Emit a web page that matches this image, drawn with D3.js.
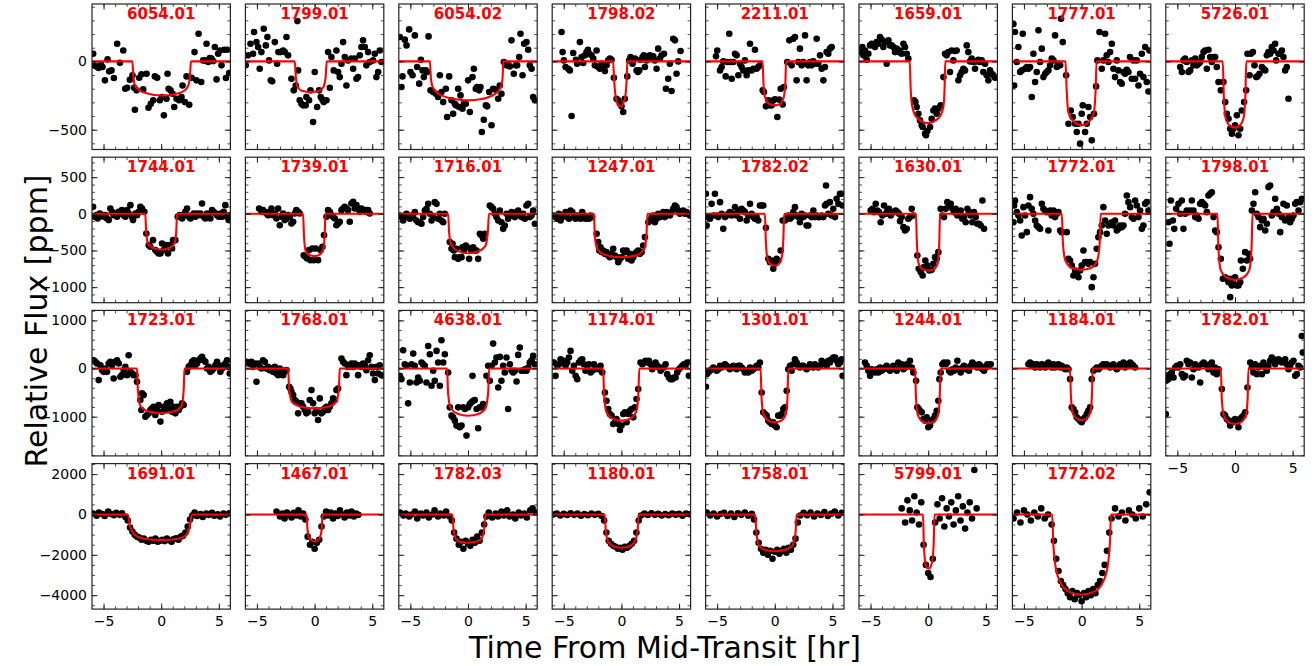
<!DOCTYPE html>
<html><head><meta charset="utf-8">
<script src="https://cdn.jsdelivr.net/npm/d3@7"></script>
<style>body{margin:0;background:#fff}svg{display:block}</style>
</head><body>
<svg id="chart" width="1314" height="666"></svg>
<script>
// ---------- labels / axes ----------
const toiLabels = [
 "6054.01","1799.01","6054.02","1798.02","2211.01","1659.01","1777.01","5726.01",
 "1744.01","1739.01","1716.01","1247.01","1782.02","1630.01","1772.01","1798.01",
 "1723.01","1768.01","4638.01","1174.01","1301.01","1244.01","1184.01","1782.01",
 "1691.01","1467.01","1782.03","1180.01","1758.01","5799.01","1772.02"];
const xDomain = [-6, 6];
const xMajorTicks = [-5, 0, 5];
const xMinorTicks = [-5,-4,-3,-2,-1,0,1,2,3,4,5];
const rowYDomains = [[-645,420],[-1212,772],[-1815,1207],[-4690,2520]];
const rowYMajorTicks = [[-500,0],[-1000,-500,0,500],[-1000,0,1000],[-4000,-2000,0,2000]];
const rowYMinorStep = [100,100,200,500];
const xAxisTitle = "Time From Mid-Transit [hr]";
const yAxisTitle = "Relative Flux [ppm]";

// ---------- row 1 ----------
const pts6054_01 = [[-5.9,56],[-5.81,-29],[-5.61,-37],[-5.43,-49],[-5.23,-24],[-5.09,-41],[-4.88,-139],[-4.65,15],[-4.51,-73],[-4.31,-66],[-4.1,-122],[-3.82,129],[-3.58,-10],[-3.29,80],[-3.12,-200],[-2.95,-193],[-2.72,-134],[-2.49,-102],[-2.34,-193],[-2.14,-212],[-2.28,-354],[-1.91,-120],[-1.71,-95],[-1.56,-205],[-1.27,-90],[-1.1,-339],[-0.9,-310],[-0.69,-285],[-0.55,-110],[-0.35,-120],[-0.12,-285],[0.06,-261],[0.23,-395],[0.46,-273],[0.55,-90],[0.64,-200],[0.81,-212],[0.98,-237],[1.13,-334],[1.33,-273],[1.56,-285],[1.76,-261],[1.85,-176],[2.05,-298],[2.2,-110],[2.43,-317],[2.63,-120],[2.89,68],[3.06,-139],[3.24,202],[3.47,-151],[3.64,7],[3.79,7],[3.93,129],[4.08,-5],[4.22,24],[4.36,20],[4.51,2],[4.65,105],[4.8,-132],[4.94,56],[5.09,80],[5.23,-29],[5.46,85],[5.61,-122],[5.72,85],[5.9,-85]];
const mod6054_01 = [[-6,0],[-2.5,0],[-2.42,-100],[-2.3,-170],[-2.0,-205],[-1.2,-235],[0,-250],[1.2,-240],[2.0,-215],[2.35,-175],[2.5,-100],[2.58,0],[6,0]];

const pts1799_01 = [[-5.97,-29],[-5.77,44],[-5.56,129],[-5.33,56],[-5.25,215],[-5.04,141],[-4.9,105],[-4.76,-54],[-4.61,68],[-4.41,239],[-4.23,117],[-4.09,178],[-3.95,7],[-3.8,-139],[-3.68,-146],[-3.45,141],[-3.25,-17],[-3.14,68],[-2.96,68],[-2.73,80],[-2.59,68],[-2.44,178],[-2.3,44],[-2.01,-127],[-1.81,-212],[-1.63,-176],[-1.49,295],[-1.43,-66],[-1.29,-285],[-1.14,-310],[-1.0,-322],[-0.77,-322],[-0.71,-261],[-0.48,-285],[-0.36,-212],[-0.13,-444],[0.01,-78],[0.22,-334],[0.39,-212],[0.53,-261],[0.68,-280],[0.79,-298],[1.03,-285],[1.17,68],[1.32,-193],[1.46,32],[1.66,-66],[1.89,80],[2.04,-78],[2.18,-115],[2.33,-17],[2.47,141],[2.62,32],[2.76,-176],[2.9,7],[3.19,20],[3.34,-54],[3.48,20],[3.63,-127],[3.77,-115],[3.92,44],[4.06,105],[4.2,154],[4.35,105],[4.49,-29],[4.64,68],[4.78,-5],[5.07,7],[5.22,56],[5.36,-115],[5.51,-78],[5.65,80],[5.8,-5]];
const mod1799_01 = [[-6,0],[-1.72,0],[-1.62,-120],[-1.45,-190],[-1.1,-215],[-0.35,-225],[0.4,-215],[0.75,-190],[0.95,-120],[1.06,0],[6,0]];

const pts6054_02 = [[-5.91,178],[-5.77,-188],[-5.68,-110],[-5.48,159],[-5.33,117],[-5.1,234],[-4.99,-78],[-4.81,-102],[-4.61,190],[-4.41,-41],[-4.23,-163],[-4.09,12],[-3.94,-66],[-3.83,-115],[-3.66,-66],[-3.54,-78],[-3.42,183],[-3.25,-212],[-3.02,-224],[-2.79,-237],[-2.59,-261],[-2.44,-102],[-2.3,-224],[-2.15,-298],[-1.92,-200],[-1.81,-407],[-1.63,-110],[-1.43,-285],[-1.29,-383],[-1.14,-310],[-1.05,-322],[-0.85,-200],[-0.77,-334],[-0.65,-249],[-0.48,-346],[-0.36,-310],[-0.19,-310],[0.01,-139],[0.16,-371],[0.39,-115],[0.51,-54],[0.68,-200],[0.79,-188],[0.97,-212],[1.08,-188],[1.2,-517],[1.37,-427],[1.55,-322],[1.66,-329],[1.84,-224],[2.04,-468],[2.18,-200],[2.41,-207],[2.62,-273],[2.76,-176],[2.9,-237],[3.11,-5],[3.34,-29],[3.48,-17],[3.63,-37],[3.77,154],[3.97,-90],[4.15,-29],[4.26,-29],[4.44,32],[4.55,202],[4.73,-102],[4.87,129],[5.07,141],[5.22,85],[5.36,-29],[5.51,-54],[5.65,-261],[5.8,-285]];
const mod6054_02 = [[-6,0],[-3.3,0],[-3.22,-120],[-3.05,-190],[-2.5,-240],[-1.2,-275],[0,-285],[1.2,-275],[2.3,-240],[2.85,-190],[3.0,-120],[3.06,0],[6,0]];

const pts1798_02 = [[-5.19,215],[-5.1,68],[-4.99,7],[-4.84,-41],[-4.61,-54],[-4.47,-66],[-4.32,-400],[-4.18,61],[-3.94,12],[-3.83,-17],[-3.6,141],[-3.45,32],[-3.31,-12],[-3.16,44],[-3.02,68],[-2.9,85],[-2.79,56],[-2.59,44],[-2.44,20],[-2.3,-29],[-2.15,80],[-2.01,-41],[-1.86,-54],[-1.72,-17],[-1.58,-41],[-1.43,-71],[-1.29,-29],[-1.14,7],[-1.0,20],[-0.85,12],[-0.65,-120],[-0.42,-273],[-0.27,-285],[-0.13,-310],[0.01,-329],[0.16,-371],[0.3,-273],[0.51,-110],[0.68,7],[0.79,32],[0.97,-17],[1.17,20],[1.32,-66],[1.43,-78],[1.55,-66],[1.66,12],[1.84,32],[1.95,44],[2.04,-41],[2.18,7],[2.33,20],[2.47,44],[2.62,32],[2.76,37],[2.9,7],[3.05,-54],[3.19,93],[3.34,20],[3.48,44],[3.69,56],[3.86,-200],[4.06,-127],[4.2,-17],[4.35,-217],[4.49,166],[4.64,154],[4.78,-90],[4.93,0],[5.13,76]];
const mod1798_02 = [[-6,0],[-0.72,0],[-0.62,-150],[-0.45,-280],[-0.2,-325],[-0.05,-330],[0.15,-310],[0.35,-250],[0.45,-140],[0.52,0],[6,0]];

const pts2211_01 = [[-5.1,37],[-4.99,80],[-4.75,-66],[-4.61,-41],[-4.47,0],[-4.26,-110],[-4.12,-5],[-3.95,202],[-3.83,-5],[-3.74,-127],[-3.6,-5],[-3.45,56],[-3.31,44],[-3.16,-102],[-3.02,-17],[-2.88,-41],[-2.73,-66],[-2.59,7],[-2.44,-102],[-2.3,-66],[-2.15,129],[-2.01,-66],[-1.86,-54],[-1.72,85],[-1.58,-54],[-1.43,-41],[-1.29,-29],[-1.05,-212],[-0.94,-224],[-0.77,-329],[-0.56,-285],[-0.42,-322],[-0.27,-322],[-0.13,-285],[0.01,-278],[0.22,-407],[0.39,-280],[0.51,-200],[0.68,-315],[0.79,-188],[1.08,-5],[1.26,154],[1.46,-29],[1.6,166],[1.75,178],[1.89,-139],[2.04,-5],[2.18,93],[2.33,-29],[2.47,-5],[2.62,190],[2.76,-139],[2.9,-29],[3.05,-5],[3.19,-29],[3.34,0],[3.48,-17],[3.63,166],[3.77,-17],[3.92,44],[4.06,-54],[4.21,-139],[4.35,-41],[4.49,68],[4.64,56],[4.78,93],[4.93,105]];
const mod2211_01 = [[-6,0],[-1.06,0],[-0.98,-160],[-0.85,-260],[-0.5,-310],[0,-322],[0.45,-312],[0.78,-260],[0.92,-150],[0.98,0],[6,0]];

const pts1659_01 = [[-5.85,68],[-5.71,105],[-5.62,44],[-5.48,80],[-5.33,12],[-5.19,56],[-5.04,117],[-4.9,129],[-4.75,117],[-4.61,105],[-4.47,141],[-4.32,129],[-4.18,178],[-4.03,159],[-3.89,105],[-3.74,141],[-3.6,-17],[-3.45,154],[-3.31,117],[-3.17,117],[-3.02,105],[-2.88,68],[-2.73,93],[-2.59,68],[-2.44,80],[-2.3,56],[-2.15,129],[-2.01,105],[-1.86,56],[-1.72,20],[-1.23,-285],[-1.11,-298],[-1.0,-334],[-0.85,-383],[-0.71,-432],[-0.56,-468],[-0.48,-480],[-0.27,-529],[-0.19,-541],[-0.07,-510],[0.16,-480],[0.3,-420],[0.45,-359],[0.59,-346],[0.74,-383],[0.88,-346],[1.08,-322],[1.32,-115],[1.46,56],[1.6,44],[1.75,68],[1.89,-78],[2.04,80],[2.18,7],[2.33,76],[2.47,80],[2.62,-139],[2.76,-102],[2.9,-78],[3.05,-54],[3.19,-66],[3.34,117],[3.48,68],[3.63,0],[3.77,20],[3.92,-5],[4.06,-54],[4.21,0],[4.35,12],[4.49,-5],[4.64,7],[4.78,-78],[4.93,-17],[5.07,-102],[5.22,-139],[5.36,-66],[5.51,-90],[5.65,-102],[5.8,-120]];
const mod1659_01 = [[-6,0],[-1.6,0],[-1.52,-200],[-1.38,-330],[-1.0,-410],[0,-452],[0.9,-415],[1.3,-340],[1.42,-200],[1.48,0],[6,0]];

const pts1777_01 = [[-5.91,273],[-5.85,-176],[-5.77,215],[-5.62,-5],[-5.48,105],[-5.33,-78],[-5.19,-66],[-5.1,202],[-4.9,-54],[-4.75,-41],[-4.61,-54],[-4.47,-41],[-4.32,-261],[-4.18,56],[-4.03,-151],[-3.89,-78],[-3.74,227],[-3.6,-5],[-3.45,93],[-3.31,-115],[-3.16,-90],[-3.02,-78],[-2.88,-66],[-2.73,-29],[-2.59,20],[-2.44,7],[-2.3,190],[-2.15,-41],[-2.01,-17],[-1.86,-29],[-1.78,312],[-1.63,141],[-1.34,-102],[-1.14,-456],[-0.94,-359],[-0.77,-407],[-0.56,-456],[-0.42,-517],[-0.27,-456],[-0.13,-602],[0.01,-383],[0.1,-322],[0.3,-517],[0.45,-456],[0.59,-334],[0.74,-407],[0.88,-578],[1.08,-383],[1.26,-183],[1.37,7],[1.55,215],[1.75,-54],[1.89,7],[2.04,202],[2.18,44],[2.33,-5],[2.47,68],[2.62,129],[2.76,-54],[2.9,-115],[3.05,7],[3.19,-66],[3.34,-151],[3.48,-163],[3.63,-78],[3.77,-90],[3.92,-61],[4.06,-78],[4.2,32],[4.35,-127],[4.49,7],[4.64,-127],[4.78,7],[4.93,-176],[5.07,-90],[5.22,56],[5.36,-115],[5.51,105],[5.65,-151],[5.8,-220],[5.88,80]];
const mod1777_01 = [[-6,0],[-1.4,0],[-1.3,-200],[-1.15,-370],[-0.7,-440],[0,-468],[0.6,-445],[1.05,-380],[1.22,-200],[1.3,0],[6,0]];

const pts5726_01 = [[-4.75,-41],[-4.61,-78],[-4.47,7],[-4.32,20],[-4.18,-5],[-4.03,-78],[-3.89,-66],[-3.74,7],[-3.6,-29],[-3.45,20],[-3.31,-29],[-3.16,-17],[-3.02,-5],[-2.88,32],[-2.73,68],[-2.59,80],[-2.44,-54],[-2.3,85],[-2.15,32],[-2.01,-5],[-1.86,32],[-1.72,32],[-1.58,-41],[-1.43,-151],[-1.23,-212],[-1.0,-151],[-0.85,-298],[-0.71,-383],[-0.56,-420],[-0.42,-493],[-0.27,-529],[-0.13,-493],[0.01,-468],[0.16,-395],[0.3,-541],[0.45,-493],[0.59,-359],[0.79,-298],[0.97,-212],[1.08,56],[1.26,-102],[1.37,56],[1.55,68],[1.69,-29],[1.84,-115],[1.95,-110],[2.12,-90],[2.33,-41],[2.47,-54],[2.62,-66],[2.76,44],[2.9,68],[3.05,56],[3.19,105],[3.34,80],[3.48,129],[3.57,7],[3.77,56],[3.92,56],[4.06,80],[4.2,32],[4.35,-66],[4.49,-41],[4.64,-273]];
const mod5726_01 = [[-6,0],[-1.06,0],[-0.97,-250],[-0.82,-410],[-0.45,-470],[0,-485],[0.4,-470],[0.75,-410],[0.9,-250],[0.98,0],[6,0]];

// ---------- row 2 ----------
const pts1744_01 = [[-5.91,95],[-5.79,-41],[-5.62,-18],[-5.51,-64],[-5.33,5],[-5.13,-18],[-4.99,-41],[-4.84,-18],[-4.7,-64],[-4.55,-86],[-4.41,73],[-4.26,27],[-4.12,-18],[-3.97,5],[-3.83,-41],[-3.68,27],[-3.54,5],[-3.4,50],[-3.25,-18],[-3.11,-41],[-2.96,50],[-2.82,5],[-2.67,118],[-2.53,-41],[-2.44,-86],[-2.24,5],[-2.1,-18],[-1.95,27],[-1.81,95],[-1.66,73],[-1.46,27],[-1.29,-268],[-1.08,-427],[-0.94,-450],[-0.71,-359],[-0.51,-495],[-0.36,-518],[-0.22,-541],[-0.07,-541],[0.07,-405],[0.22,-495],[0.36,-473],[0.45,-427],[0.59,-541],[0.79,-427],[0.94,-473],[1.03,-359],[1.23,-359],[1.43,-41],[1.6,-18],[1.81,-64],[1.95,-18],[2.1,27],[2.24,73],[2.38,-41],[2.53,-64],[2.67,-18],[2.82,5],[2.96,-41],[3.11,5],[3.25,-18],[3.4,5],[3.54,141],[3.68,-41],[3.83,-64],[3.97,5],[4.12,-18],[4.26,-64],[4.41,50],[4.55,27],[4.7,5],[4.84,-18],[4.99,-41],[5.13,5],[5.27,-41],[5.42,27],[5.56,118],[5.71,-41],[5.85,-86],[5.94,-18]];
const mod1744_01 = [[-6,0],[-1.38,0],[-1.3,-250],[-1.15,-400],[-0.7,-465],[0,-487],[0.7,-465],[1.15,-400],[1.3,-250],[1.38,0],[6,0]];

const pts1739_01 = [[-4.81,73],[-4.61,27],[-4.47,50],[-4.32,27],[-4.18,5],[-4.03,-18],[-3.89,27],[-3.74,73],[-3.6,-18],[-3.45,5],[-3.31,-64],[-3.16,73],[-3.02,-155],[-2.88,-41],[-2.73,5],[-2.59,-86],[-2.44,-64],[-2.3,-18],[-2.15,-41],[-2.01,-132],[-1.86,-109],[-1.72,5],[-1.58,50],[-1.43,27],[-1.29,5],[-0.94,-564],[-0.79,-586],[-0.65,-609],[-0.48,-495],[-0.36,-632],[-0.19,-473],[-0.07,-632],[0.1,-473],[0.3,-632],[0.51,-495],[0.68,-450],[0.82,-291],[1.03,-41],[1.17,50],[1.32,27],[1.46,-18],[1.6,-41],[1.75,-64],[1.89,-155],[2.04,-132],[2.18,-109],[2.33,50],[2.47,73],[2.62,95],[2.76,73],[2.9,50],[3.05,-109],[3.19,141],[3.34,164],[3.48,73],[3.63,118],[3.77,73],[3.92,27],[4.06,73],[4.2,50],[4.35,50],[4.49,27],[4.64,50],[4.78,5]];
const mod1739_01 = [[-6,0],[-1.0,0],[-0.92,-300],[-0.78,-500],[-0.45,-560],[0,-577],[0.4,-560],[0.72,-500],[0.87,-300],[0.94,0],[6,0]];

const pts1716_01 = [[-5.91,-23],[-5.77,-45],[-5.62,-91],[-5.48,-23],[-5.33,0],[-5.19,-45],[-5.04,-68],[-4.9,-23],[-4.75,-45],[-4.61,23],[-4.47,-91],[-4.32,-114],[-4.18,-114],[-4.03,-136],[-3.89,-45],[-3.74,45],[-3.6,68],[-3.45,136],[-3.31,0],[-3.16,-91],[-3.02,-45],[-2.88,159],[-2.73,136],[-2.59,-68],[-2.44,0],[-2.3,-91],[-2.15,-114],[-2.01,0],[-1.58,-386],[-1.43,-477],[-1.34,-409],[-1.23,-500],[-1.14,-591],[-1.0,-477],[-0.85,-614],[-0.71,-591],[-0.56,-591],[-0.48,-455],[-0.36,-500],[-0.19,-432],[-0.07,-455],[0.1,-614],[0.22,-477],[0.3,-500],[0.45,-455],[0.59,-500],[0.74,-500],[0.88,-614],[1.03,-273],[1.17,-295],[1.32,-341],[1.46,-273],[1.89,114],[2.04,91],[2.18,68],[2.33,0],[2.47,-45],[2.62,-91],[2.76,45],[2.9,-114],[3.05,-205],[3.19,-159],[3.34,0],[3.48,-68],[3.63,-23],[3.77,23],[3.92,-23],[4.06,-45],[4.21,23],[4.35,45],[4.49,-23],[4.64,-45],[4.78,0],[4.93,-68],[5.07,114],[5.22,136],[5.36,-45],[5.51,-23],[5.65,45],[5.8,-136]];
const mod1716_01 = [[-6,0],[-1.72,0],[-1.64,-250],[-1.45,-420],[-0.9,-505],[0,-537],[0.9,-510],[1.5,-440],[1.72,-250],[1.82,0],[6,0]];

const pts1247_01 = [[-5.85,-23],[-5.71,-45],[-5.56,-68],[-5.42,0],[-5.27,-91],[-5.13,-45],[-4.99,-23],[-4.84,23],[-4.7,-45],[-4.55,-68],[-4.41,45],[-4.26,23],[-4.12,-45],[-3.97,-68],[-3.83,-23],[-3.68,-45],[-3.54,-68],[-3.4,23],[-3.25,-23],[-3.11,-68],[-2.96,-45],[-2.82,-68],[-2.67,-23],[-2.53,-45],[-2.15,-273],[-2.01,-386],[-1.92,-500],[-1.81,-455],[-1.69,-523],[-1.58,-500],[-1.43,-545],[-1.29,-523],[-1.14,-568],[-1.0,-591],[-0.85,-545],[-0.71,-477],[-0.56,-568],[-0.42,-591],[-0.27,-659],[-0.13,-614],[0.01,-591],[0.16,-500],[0.3,-523],[0.45,-500],[0.59,-614],[0.74,-545],[0.88,-636],[1.03,-591],[1.17,-545],[1.31,-523],[1.46,-500],[1.6,-545],[1.75,-523],[1.89,-432],[2.04,-318],[2.33,-114],[2.47,-91],[2.62,-45],[2.76,-23],[2.9,-114],[3.05,-68],[3.19,0],[3.34,-45],[3.48,-23],[3.63,23],[3.77,-45],[3.92,23],[4.06,0],[4.21,-23],[4.35,23],[4.49,68],[4.64,114],[4.78,91],[4.93,45],[5.07,0],[5.22,23],[5.36,45],[5.51,0],[5.65,23],[5.8,0],[5.94,-23]];
const mod1247_01 = [[-6,0],[-2.38,0],[-2.3,-300],[-2.1,-480],[-1.3,-565],[0,-592],[1.2,-570],[1.95,-490],[2.17,-300],[2.26,0],[6,0]];

const pts1782_02 = [[-5.97,273],[-5.91,-159],[-5.77,-45],[-5.62,-68],[-5.48,136],[-5.33,-23],[-5.19,273],[-5.04,-23],[-4.9,-45],[-4.75,159],[-4.61,0],[-4.47,-205],[-4.32,-45],[-4.18,-23],[-4.03,0],[-3.89,23],[-3.74,-23],[-3.6,0],[-3.45,91],[-3.31,-23],[-3.16,45],[-3.02,-68],[-2.88,68],[-2.73,45],[-2.59,23],[-2.44,-91],[-2.3,-23],[-2.15,136],[-2.01,0],[-1.86,-45],[-1.72,-68],[-1.58,-45],[-1.43,-91],[-1.29,114],[-1.14,114],[-1.0,114],[-0.77,-191],[-0.56,-614],[-0.42,-659],[-0.27,-636],[-0.13,-750],[0.01,-682],[0.16,-614],[0.3,-636],[0.51,-500],[0.68,-91],[0.88,-91],[1.03,-45],[1.17,-23],[1.32,-68],[1.46,-45],[1.6,23],[1.75,91],[1.89,-23],[2.04,-45],[2.18,-114],[2.33,0],[2.47,-45],[2.62,-23],[2.76,-159],[2.9,-159],[3.05,-23],[3.19,-45],[3.34,45],[3.48,-45],[3.63,-23],[3.77,-45],[3.92,-45],[4.06,-23],[4.21,-45],[4.35,114],[4.44,386],[4.49,136],[4.64,0],[4.78,159],[4.93,-23],[5.07,68],[5.22,-45],[5.36,205],[5.51,136],[5.65,273],[5.79,273],[5.88,114]];
const mod1782_02 = [[-6,0],[-0.86,0],[-0.78,-350],[-0.65,-600],[-0.35,-690],[0,-705],[0.3,-690],[0.6,-600],[0.74,-350],[0.82,0],[6,0]];

const pts1630_01 = [[-4.99,45],[-4.84,68],[-4.7,23],[-4.55,136],[-4.41,45],[-4.26,23],[-4.12,-114],[-3.97,-23],[-3.83,114],[-3.68,0],[-3.54,45],[-3.4,68],[-3.25,-23],[-3.11,23],[-2.96,23],[-2.82,45],[-2.67,23],[-2.53,0],[-2.44,-100],[-2.3,-45],[-2.15,-182],[-2.01,-227],[-1.86,-205],[-1.72,-68],[-1.58,-45],[-1.43,68],[-1.29,-23],[-0.94,-568],[-0.82,-750],[-0.65,-795],[-0.48,-841],[-0.36,-727],[-0.25,-636],[-0.07,-705],[0.1,-773],[0.3,-764],[0.45,-682],[0.59,-591],[0.74,-614],[0.88,-523],[1.08,68],[1.23,-23],[1.37,-45],[1.52,68],[1.66,159],[1.81,114],[1.95,136],[2.1,68],[2.24,23],[2.38,68],[2.53,-23],[2.67,23],[2.82,45],[2.96,-68],[3.11,-45],[3.25,-114],[3.4,68],[3.54,23],[3.68,-23],[3.83,-114],[3.97,23],[4.12,-45],[4.26,-136],[4.41,-136],[4.55,-159],[4.7,182],[4.84,-205]];
const mod1630_01 = [[-6,0],[-1.06,0],[-0.98,-400],[-0.82,-680],[-0.45,-760],[0,-773],[0.45,-760],[0.82,-680],[0.96,-400],[1.03,0],[6,0]];

const pts1772_01 = [[-5.91,-114],[-5.85,114],[-5.77,182],[-5.62,23],[-5.48,-23],[-5.33,-91],[-5.19,-295],[-5.04,91],[-4.9,-23],[-4.75,-250],[-4.61,114],[-4.47,227],[-4.32,68],[-4.18,0],[-4.03,-91],[-3.89,-159],[-3.74,-182],[-3.6,-205],[-3.45,136],[-3.31,68],[-3.16,45],[-3.02,23],[-2.88,-227],[-2.73,45],[-2.59,-23],[-2.44,45],[-2.3,-45],[-2.15,0],[-2.01,23],[-1.86,-227],[-1.72,-250],[-1.29,-250],[-1.14,-614],[-1.0,-636],[-0.85,-705],[-0.71,-841],[-0.56,-773],[-0.42,-818],[-0.27,-864],[-0.13,-773],[0.01,-705],[0.16,-500],[0.3,-659],[0.45,-659],[0.59,-682],[0.74,-659],[0.88,-1000],[1.03,-864],[1.17,-682],[1.31,-477],[1.46,-318],[1.6,-250],[1.75,-159],[1.89,91],[2.04,-91],[2.18,-273],[2.33,-159],[2.47,-136],[2.62,-114],[2.76,-159],[2.9,-91],[3.05,-227],[3.19,-205],[3.34,-159],[3.48,-182],[3.63,-159],[3.77,0],[3.92,250],[4.06,159],[4.21,91],[4.35,-45],[4.5,-68],[4.64,182],[4.79,114],[4.93,-45],[5.07,45],[5.22,-205],[5.36,-159],[5.51,136],[5.65,159],[5.8,45]];
const mod1772_01 = [[-6,0],[-1.72,0],[-1.62,-400],[-1.4,-640],[-0.8,-740],[0,-764],[0.8,-740],[1.35,-640],[1.57,-400],[1.66,0],[6,0]];

const pts1798_01 = [[-5.77,-114],[-5.68,-409],[-5.56,182],[-5.39,-91],[-5.27,-205],[-5.1,68],[-4.9,136],[-4.75,0],[-4.61,182],[-4.47,-205],[-4.32,0],[-4.18,45],[-4.03,23],[-3.89,45],[-3.74,182],[-3.6,45],[-3.45,-45],[-3.31,-23],[-3.16,-68],[-3.02,136],[-2.88,159],[-2.73,136],[-2.59,114],[-2.44,23],[-2.3,250],[-2.15,273],[-2.01,295],[-1.86,-45],[-1.72,-227],[-1.58,-250],[-1.43,-455],[-1.23,-614],[-1.05,-886],[-0.85,-864],[-0.71,-886],[-0.56,-932],[-0.42,-1136],[-0.42,-886],[-0.27,-977],[-0.13,-955],[0.01,-864],[0.16,-977],[0.3,-977],[0.45,-932],[0.51,-636],[0.68,-750],[0.88,-523],[1.03,-636],[1.17,-545],[1.31,-614],[1.46,45],[1.6,136],[1.75,295],[1.89,0],[2.04,-45],[2.18,-182],[2.33,-91],[2.47,-68],[2.62,-227],[2.76,-136],[2.9,364],[3.05,386],[3.19,-23],[3.34,23],[3.48,205],[3.63,68],[3.77,0],[3.92,-250],[4.06,-45],[4.2,136],[4.35,-91],[4.49,114],[4.64,-45],[4.78,-114],[4.93,-68],[5.07,-23],[5.22,136],[5.36,159],[5.51,45],[5.65,159],[5.8,205]];
const mod1798_01 = [[-6,0],[-1.52,0],[-1.44,-450],[-1.25,-760],[-0.7,-870],[0,-900],[0.7,-870],[1.25,-760],[1.44,-450],[1.52,0],[6,0]];

// ---------- row 3 ----------
const pts1723_01 = [[-5.85,172],[-5.71,138],[-5.56,103],[-5.42,-241],[-5.27,69],[-5.13,-34],[-4.99,-69],[-4.84,0],[-4.7,-69],[-4.55,103],[-4.41,138],[-4.26,69],[-4.12,-207],[-3.97,138],[-3.83,172],[-3.68,103],[-3.54,-172],[-3.4,-138],[-3.25,-34],[-3.11,34],[-2.96,-138],[-2.82,276],[-2.67,-69],[-2.53,-103],[-2.38,-138],[-2.24,-138],[-2.1,-276],[-1.81,-655],[-1.72,-862],[-1.66,-517],[-1.52,-552],[-1.37,-1000],[-1.23,-966],[-1.08,-931],[-0.94,-862],[-0.79,-828],[-0.65,-793],[-0.51,-966],[-0.36,-862],[-0.22,-759],[-0.07,-1103],[0.07,-897],[0.22,-793],[0.36,-862],[0.51,-724],[0.65,-828],[0.79,-690],[0.94,-897],[1.08,-793],[1.23,-931],[1.37,-793],[1.52,-862],[1.66,-793],[1.81,-724],[1.95,-759],[2.24,-69],[2.38,34],[2.53,69],[2.67,138],[2.82,172],[2.96,69],[3.11,103],[3.25,172],[3.4,207],[3.54,241],[3.68,172],[3.83,138],[3.97,0],[4.12,34],[4.26,-69],[4.41,-34],[4.55,0],[4.7,69],[4.84,138],[4.99,69],[5.13,-69],[5.27,0],[5.42,69],[5.56,103],[5.71,172],[5.85,34],[5.94,-103]];
const mod1723_01 = [[-6,0],[-2.1,0],[-2.02,-450],[-1.8,-780],[-1.0,-900],[0,-930],[1.0,-900],[1.75,-780],[1.95,-450],[2.02,0],[6,0]];

const pts1768_01 = [[-5.91,138],[-5.77,103],[-5.62,103],[-5.48,138],[-5.33,34],[-5.19,103],[-5.04,-276],[-4.9,103],[-4.75,34],[-4.61,0],[-4.47,172],[-4.32,138],[-4.18,0],[-4.03,34],[-3.89,-34],[-3.74,0],[-3.6,-69],[-3.45,34],[-3.31,-103],[-3.16,-138],[-3.02,0],[-2.88,-34],[-2.73,-138],[-2.59,-69],[-2.44,-34],[-2.21,-379],[-2.1,-414],[-2.01,-483],[-1.86,-552],[-1.72,-655],[-1.58,-690],[-1.43,-931],[-1.29,-724],[-1.14,-724],[-1.0,-793],[-0.85,-862],[-0.71,-931],[-0.56,-897],[-0.42,-655],[-0.27,-448],[-0.13,-724],[0.01,-931],[0.16,-862],[0.3,-1069],[0.45,-621],[0.59,-931],[0.74,-897],[0.88,-828],[1.03,-793],[1.17,-862],[1.32,-793],[1.46,-724],[1.6,-621],[1.75,-655],[1.89,-448],[2.04,-414],[2.33,207],[2.47,138],[2.62,103],[2.76,-138],[2.9,34],[3.05,69],[3.19,103],[3.34,34],[3.48,103],[3.63,69],[3.77,-138],[3.92,69],[4.06,34],[4.2,103],[4.35,69],[4.49,-34],[4.64,172],[4.78,276],[4.93,34],[5.07,-103],[5.22,-241],[5.36,34],[5.51,-103],[5.65,69],[5.8,-138]];
const mod1768_01 = [[-6,0],[-2.3,0],[-2.2,-450],[-1.95,-700],[-1.1,-800],[0,-828],[1.1,-800],[1.85,-700],[2.1,-450],[2.18,0],[6,0]];

const pts4638_01 = [[-5.91,-152],[-5.77,-221],[-5.62,379],[-5.48,90],[-5.33,55],[-5.19,-724],[-5.04,-290],[-4.9,90],[-4.75,310],[-4.61,55],[-4.47,-290],[-4.32,-186],[-4.18,-255],[-4.03,124],[-3.89,90],[-3.74,55],[-3.6,-290],[-3.45,469],[-3.31,297],[-3.16,-359],[-3.02,-48],[-2.88,-255],[-2.73,366],[-2.59,124],[-2.44,-359],[-2.3,586],[-2.15,124],[-2.01,297],[-1.72,-83],[-1.58,-807],[-1.43,-979],[-1.29,-1014],[-1.14,-1083],[-1.0,-1186],[-0.85,-807],[-0.71,-1221],[-0.56,-1186],[-0.42,-807],[-0.27,-841],[-0.13,-1393],[0.01,-807],[0.16,-738],[0.3,-703],[0.39,-152],[0.45,-669],[0.59,-655],[0.74,-841],[0.88,-1241],[1.03,-807],[1.17,-807],[1.31,-738],[1.6,-152],[1.75,55],[1.89,-255],[2.04,55],[2.18,517],[2.33,124],[2.47,228],[2.62,-393],[2.76,241],[2.9,-255],[3.05,55],[3.19,-83],[3.34,228],[3.48,-841],[3.63,90],[3.77,-48],[3.92,-83],[4.06,-48],[4.21,-269],[4.35,283],[4.49,434],[4.64,-48],[4.78,-48],[4.93,-14],[5.07,-48],[5.22,21],[5.36,124],[5.51,172],[5.65,262],[5.8,90]];
const mod4638_01 = [[-6,0],[-1.81,0],[-1.73,-500],[-1.5,-820],[-0.9,-940],[0,-980],[0.9,-945],[1.5,-830],[1.75,-500],[1.83,0],[6,0]];

const pts1174_01 = [[-5.85,124],[-5.71,-152],[-5.56,55],[-5.42,90],[-5.27,193],[-5.13,124],[-4.99,159],[-4.84,55],[-4.7,124],[-4.55,228],[-4.41,366],[-4.26,-48],[-4.12,55],[-3.97,-152],[-3.83,-221],[-3.68,124],[-3.54,172],[-3.4,193],[-3.25,90],[-3.11,-48],[-2.96,55],[-2.82,90],[-2.67,-83],[-2.53,-48],[-2.38,90],[-2.24,-14],[-2.1,21],[-1.95,-14],[-1.81,55],[-1.66,-83],[-1.43,-497],[-1.29,-669],[-1.14,-841],[-1.0,-945],[-0.85,-979],[-0.71,-1152],[-0.56,-1117],[-0.42,-1048],[-0.27,-1152],[-0.13,-1276],[0.01,-1186],[0.16,-945],[0.3,-910],[0.45,-1117],[0.59,-945],[0.74,-876],[0.88,-841],[1.03,-1014],[1.17,-807],[1.31,-634],[1.46,-428],[1.66,124],[1.81,90],[1.95,124],[2.1,159],[2.24,124],[2.38,159],[2.53,90],[2.67,-14],[2.82,55],[2.96,124],[3.11,55],[3.25,21],[3.4,-48],[3.54,21],[3.69,21],[3.83,90],[3.97,-117],[4.12,-186],[4.26,-221],[4.41,-221],[4.55,-186],[4.7,-186],[4.84,-83],[4.99,-14],[5.13,21],[5.28,55],[5.42,90],[5.56,55],[5.71,124],[5.85,-152]];
const mod1174_01 = [[-6,0],[-1.58,0],[-1.5,-550],[-1.3,-900],[-0.75,-1040],[0,-1083],[0.75,-1040],[1.28,-900],[1.47,-550],[1.55,0],[6,0]];

const pts1301_01 = [[-5.97,-379],[-5.91,-117],[-5.77,-83],[-5.62,-48],[-5.48,-14],[-5.33,21],[-5.19,-14],[-5.04,-48],[-4.9,-14],[-4.75,55],[-4.61,21],[-4.47,55],[-4.32,90],[-4.18,55],[-4.03,21],[-3.89,-14],[-3.74,21],[-3.6,55],[-3.45,21],[-3.31,-14],[-3.16,55],[-3.02,55],[-2.88,21],[-2.73,-14],[-2.59,-83],[-2.44,-48],[-2.3,-83],[-2.15,21],[-2.01,-48],[-1.86,-14],[-1.72,21],[-1.58,55],[-1.43,21],[-1.29,124],[-1.14,-497],[-1.0,-910],[-0.85,-945],[-0.71,-979],[-0.56,-1083],[-0.42,-1117],[-0.27,-1152],[-0.13,-1117],[0.01,-1186],[0.16,-1221],[0.3,-979],[0.45,-979],[0.59,-945],[0.74,-841],[0.88,-807],[1.03,-462],[1.17,-14],[1.32,55],[1.46,-48],[1.6,90],[1.75,193],[1.89,124],[2.04,55],[2.18,21],[2.33,55],[2.47,55],[2.62,21],[2.76,-14],[2.91,21],[3.05,90],[3.19,55],[3.34,21],[3.48,90],[3.63,55],[3.77,21],[3.92,55],[4.06,159],[4.21,124],[4.35,90],[4.5,55],[4.64,159],[4.78,124],[4.93,193],[5.07,228],[5.22,228],[5.36,159],[5.51,90],[5.65,124],[5.79,193],[5.88,-152]];
const mod1301_01 = [[-6,0],[-1.23,0],[-1.15,-600],[-0.98,-950],[-0.5,-1090],[0,-1117],[0.5,-1090],[0.95,-950],[1.1,-600],[1.17,0],[6,0]];

const pts1244_01 = [[-5.48,124],[-5.33,55],[-5.19,-48],[-5.04,-152],[-4.9,-14],[-4.75,-48],[-4.61,-83],[-4.47,-14],[-4.32,-83],[-4.18,21],[-4.03,-48],[-3.89,-14],[-3.74,21],[-3.6,55],[-3.45,-14],[-3.31,-48],[-3.16,21],[-3.02,55],[-2.88,-14],[-2.73,-48],[-2.59,124],[-2.44,55],[-2.3,90],[-2.15,-14],[-2.01,21],[-1.86,90],[-1.72,55],[-1.58,159],[-1.43,21],[-1.29,-83],[-1.05,-255],[-0.94,-807],[-0.82,-841],[-0.71,-876],[-0.56,-910],[-0.42,-1048],[-0.27,-1083],[-0.13,-1014],[0.01,-1221],[0.16,-1186],[0.3,-1083],[0.45,-1048],[0.59,-979],[0.74,-876],[0.88,-669],[0.97,-221],[1.08,-83],[1.23,90],[1.37,124],[1.52,90],[1.66,124],[1.81,-48],[1.95,-83],[2.1,-14],[2.24,-48],[2.38,21],[2.53,159],[2.67,-14],[2.82,-83],[2.96,21],[3.11,55],[3.25,-14],[3.4,21],[3.54,-48],[3.68,55],[3.83,124],[3.97,90],[4.12,55],[4.26,21],[4.41,90],[4.55,55],[4.7,-14],[4.84,-48],[4.99,21],[5.13,90],[5.27,55],[5.42,90]];
const mod1244_01 = [[-6,0],[-1.14,0],[-1.06,-600],[-0.9,-960],[-0.45,-1110],[0,-1138],[0.45,-1110],[0.86,-960],[1.0,-600],[1.08,0],[6,0]];

const pts1184_01 = [[-4.61,90],[-4.47,124],[-4.32,55],[-4.18,90],[-4.03,21],[-3.89,90],[-3.74,55],[-3.6,21],[-3.45,90],[-3.31,55],[-3.16,21],[-3.02,90],[-2.88,124],[-2.73,55],[-2.59,21],[-2.44,90],[-2.3,21],[-2.15,55],[-2.01,90],[-1.86,21],[-1.72,55],[-1.58,21],[-1.43,-14],[-1.29,21],[-1.14,-14],[-1.0,-221],[-0.85,-807],[-0.71,-841],[-0.56,-910],[-0.42,-1014],[-0.27,-1048],[-0.13,-1083],[0.01,-1117],[0.16,-1048],[0.3,-1014],[0.45,-945],[0.59,-876],[0.74,-807],[0.88,-221],[1.03,-48],[1.17,-14],[1.32,21],[1.46,-14],[1.6,21],[1.75,55],[1.89,90],[2.04,55],[2.18,90],[2.33,55],[2.47,21],[2.62,55],[2.76,90],[2.9,21],[3.05,-14],[3.19,21],[3.34,90],[3.48,55],[3.63,124],[3.77,21],[3.92,90],[4.06,55],[4.21,124],[4.35,90],[4.49,55],[4.64,21]];
const mod1184_01 = [[-6,0],[-1.0,0],[-0.93,-550],[-0.78,-920],[-0.4,-1040],[0,-1069],[0.4,-1040],[0.75,-920],[0.9,-550],[0.97,0],[6,0]];

const pts1782_01 = [[-6.0,-945],[-5.97,-255],[-5.85,-152],[-5.77,-221],[-5.62,-117],[-5.48,-83],[-5.33,-186],[-5.19,21],[-5.04,55],[-4.9,21],[-4.75,90],[-4.61,-117],[-4.47,-186],[-4.32,-152],[-4.18,159],[-4.03,90],[-3.89,124],[-3.74,-186],[-3.6,-14],[-3.45,90],[-3.31,55],[-3.16,21],[-3.02,-290],[-2.88,90],[-2.73,124],[-2.59,90],[-2.44,55],[-2.3,-14],[-2.15,90],[-2.01,124],[-1.86,-83],[-1.72,21],[-1.58,-117],[-1.43,-14],[-1.14,-428],[-1.0,-945],[-0.85,-979],[-0.71,-1048],[-0.56,-1083],[-0.42,-1186],[-0.27,-1117],[-0.13,-1083],[0.01,-1048],[0.16,-1117],[0.3,-1221],[0.45,-1048],[0.59,-1014],[0.74,-979],[0.88,-910],[1.08,-393],[1.32,124],[1.46,21],[1.6,-83],[1.75,90],[1.89,-117],[2.04,21],[2.18,55],[2.33,-117],[2.47,124],[2.62,21],[2.76,-48],[2.9,55],[3.05,159],[3.19,228],[3.34,193],[3.48,90],[3.63,159],[3.77,193],[3.92,159],[4.06,124],[4.2,159],[4.35,193],[4.49,90],[4.64,-14],[4.78,55],[4.93,124],[5.07,159],[5.22,-152],[5.36,-117],[5.51,55],[5.65,21],[5.79,676],[5.88,331]];
const mod1782_01 = [[-6,0],[-1.23,0],[-1.15,-600],[-0.98,-970],[-0.5,-1120],[0,-1152],[0.5,-1120],[0.95,-970],[1.1,-600],[1.17,0],[6,0]];

// ---------- row 4 ----------
const pts1691_01 = [[-5.9,50],[-5.6,-60],[-5.4,100],[-5.1,20],[-4.9,-80],[-4.6,150],[-4.4,30],[-4.1,-40],[-3.9,80],[-3.6,-20],[-3.4,60],[-3.1,-120],[-2.9,-300],[-2.7,-650],[-2.5,-850],[-2.3,-1000],[-2.1,-1100],[-1.9,-1150],[-1.7,-1250],[-1.5,-1200],[-1.3,-1300],[-1.1,-1350],[-0.9,-1250],[-0.7,-1300],[-0.5,-1200],[-0.3,-1350],[-0.1,-1300],[0.1,-1250],[0.3,-1320],[0.5,-1200],[0.7,-1280],[0.9,-1350],[1.1,-1220],[1.3,-1180],[1.5,-1250],[1.7,-1100],[1.9,-1050],[2.1,-900],[2.3,-600],[2.5,-250],[2.7,-50],[2.9,100],[3.1,-80],[3.4,20],[3.6,-120],[3.9,50],[4.1,-30],[4.4,80],[4.6,-60],[4.9,10],[5.1,-100],[5.4,40],[5.6,-20],[5.9,60]];
const mod1691_01 = [[-6,0],[-2.9,0],[-2.7,-550],[-2.3,-1000],[-1.5,-1200],[0,-1260],[1.5,-1200],[2.2,-1000],[2.5,-550],[2.65,0],[6,0]];

const pts1467_01 = [[-3.3,150],[-3.0,-100],[-2.8,50],[-2.6,-200],[-2.4,100],[-2.2,0],[-2.0,-150],[-1.8,80],[-1.6,-50],[-1.4,200],[-1.2,-100],[-1.0,50],[-0.8,-250],[-0.6,-1100],[-0.4,-1500],[-0.2,-1350],[0,-1700],[0.2,-1400],[0.4,-1250],[0.6,-600],[0.8,-100],[1.0,150],[1.2,-50],[1.4,100],[1.6,-200],[1.8,50],[2.0,-80],[2.2,200],[2.4,0],[2.6,-150],[2.8,100],[3.0,-50],[3.2,150],[3.4,-100],[3.6,50],[3.8,-20]];
const mod1467_01 = [[-6,0],[-0.7,0],[-0.62,-700],[-0.45,-1150],[-0.2,-1300],[0,-1330],[0.2,-1300],[0.45,-1150],[0.62,-700],[0.7,0],[6,0]];

const pts1782_03 = [[-5.9,100],[-5.6,-50],[-5.4,50],[-5.1,-100],[-4.9,0],[-4.6,150],[-4.4,-200],[-4.1,50],[-3.9,-50],[-3.6,100],[-3.4,-150],[-3.1,0],[-2.9,200],[-2.6,-100],[-2.4,50],[-2.1,-50],[-1.9,150],[-1.6,-100],[-1.4,-300],[-1.2,-900],[-1.0,-1200],[-0.8,-1500],[-0.6,-1350],[-0.4,-1700],[-0.2,-1300],[0,-1450],[0.2,-1550],[0.4,-1250],[0.6,-1400],[0.8,-1100],[1.0,-1300],[1.2,-900],[1.4,-500],[1.6,-100],[1.8,100],[2.1,-150],[2.4,50],[2.6,-100],[2.9,150],[3.1,-50],[3.4,200],[3.6,-100],[3.9,0],[4.1,-200],[4.4,100],[4.6,-50],[4.9,50],[5.1,-150],[5.4,200],[5.6,300],[5.9,100]];
const mod1782_03 = [[-6,0],[-1.35,0],[-1.25,-750],[-1.0,-1250],[-0.5,-1380],[0,-1400],[0.5,-1380],[1.1,-1250],[1.4,-750],[1.5,0],[6,0]];

const pts1180_01 = [[-5.9,0],[-5.6,50],[-5.3,-50],[-5.0,30],[-4.7,-30],[-4.4,60],[-4.1,-20],[-3.8,40],[-3.5,-60],[-3.2,20],[-2.9,-40],[-2.6,50],[-2.3,-20],[-2.0,30],[-1.7,-80],[-1.5,-300],[-1.3,-900],[-1.1,-1300],[-0.9,-1450],[-0.7,-1550],[-0.5,-1600],[-0.3,-1700],[-0.1,-1650],[0.1,-1750],[0.3,-1600],[0.5,-1650],[0.7,-1550],[0.9,-1450],[1.1,-1300],[1.3,-900],[1.5,-300],[1.7,-50],[2.0,40],[2.3,-30],[2.6,60],[2.9,-20],[3.2,30],[3.5,-50],[3.8,20],[4.1,-40],[4.4,50],[4.7,-10],[5.0,30],[5.3,-60],[5.6,40],[5.9,10]];
const mod1180_01 = [[-6,0],[-1.45,0],[-1.35,-850],[-1.1,-1400],[-0.6,-1600],[0,-1650],[0.6,-1600],[1.1,-1400],[1.4,-850],[1.5,0],[6,0]];

const pts1758_01 = [[-5.9,100],[-5.6,-50],[-5.3,50],[-5.0,-100],[-4.7,20],[-4.4,80],[-4.1,-80],[-3.8,40],[-3.5,-120],[-3.2,60],[-2.9,-20],[-2.6,100],[-2.3,-60],[-2.0,30],[-1.8,-250],[-1.6,-900],[-1.4,-1400],[-1.2,-1700],[-1.0,-1900],[-0.8,-1750],[-0.6,-2000],[-0.4,-1800],[-0.2,-2200],[0,-1850],[0.2,-1750],[0.4,-1950],[0.6,-1800],[0.8,-1700],[1.0,-1900],[1.2,-1650],[1.4,-1750],[1.6,-1500],[1.8,-1200],[2.0,-400],[2.2,-50],[2.5,80],[2.8,-40],[3.1,100],[3.4,-100],[3.7,50],[4.0,-30],[4.3,120],[4.6,-80],[4.9,40],[5.2,150],[5.5,-50],[5.8,80]];
const mod1758_01 = [[-6,0],[-1.7,0],[-1.6,-900],[-1.35,-1550],[-0.7,-1780],[0,-1820],[0.7,-1780],[1.5,-1550],[1.8,-900],[1.9,0],[6,0]];

const pts5799_01 = [[-2.3,300],[-2.0,-400],[-1.8,700],[-1.6,200],[-1.4,-300],[-1.2,900],[-1.0,100],[-0.8,-500],[-0.6,600],[-0.4,-1500],[-0.2,-2500],[0,-2900],[0.2,-3100],[0.4,-2200],[0.6,-400],[0.8,500],[1.0,-200],[1.2,800],[1.4,-600],[1.6,300],[1.8,-100],[2.0,600],[2.2,-500],[2.4,200],[2.6,900],[2.8,-300],[3.0,400],[3.2,-700],[3.4,100],[3.6,600],[3.8,-200],[4.0,2200],[4.2,300]];
const mod5799_01 = [[-6,0],[-0.45,0],[-0.38,-1400],[-0.25,-2400],[-0.1,-2650],[0.05,-2680],[0.2,-2600],[0.35,-2300],[0.48,-1400],[0.55,0],[6,0]];

const pts1772_02 = [[-5.9,-200],[-5.6,100],[-5.3,-400],[-5.0,200],[-4.7,0],[-4.4,-300],[-4.1,100],[-3.8,-100],[-3.5,300],[-3.2,-200],[-2.9,0],[-2.6,-500],[-2.4,-1300],[-2.2,-2200],[-2.0,-2800],[-1.8,-3300],[-1.6,-3500],[-1.4,-3700],[-1.2,-3900],[-1.0,-4100],[-0.8,-3800],[-0.6,-4200],[-0.4,-3900],[-0.2,-4000],[0,-4300],[0.2,-3900],[0.4,-4100],[0.6,-3800],[0.8,-4000],[1.0,-3700],[1.2,-3900],[1.4,-3500],[1.6,-3300],[1.8,-2900],[2.0,-2500],[2.2,-1800],[2.4,-900],[2.6,-200],[2.9,300],[3.2,-100],[3.5,100],[3.8,-300],[4.1,200],[4.4,0],[4.7,-200],[5.0,300],[5.3,-100],[5.6,500],[5.9,1100]];
const mod1772_02 = [[-6,0],[-2.55,0],[-2.45,-1500],[-2.1,-3000],[-1.2,-3800],[0,-3970],[1.2,-3800],[2.1,-3000],[2.45,-1500],[2.55,0],[6,0]];

const panelPoints = [pts6054_01,pts1799_01,pts6054_02,pts1798_02,pts2211_01,pts1659_01,pts1777_01,pts5726_01,
 pts1744_01,pts1739_01,pts1716_01,pts1247_01,pts1782_02,pts1630_01,pts1772_01,pts1798_01,
 pts1723_01,pts1768_01,pts4638_01,pts1174_01,pts1301_01,pts1244_01,pts1184_01,pts1782_01,
 pts1691_01,pts1467_01,pts1782_03,pts1180_01,pts1758_01,pts5799_01,pts1772_02];
const panelModels = [mod6054_01,mod1799_01,mod6054_02,mod1798_02,mod2211_01,mod1659_01,mod1777_01,mod5726_01,
 mod1744_01,mod1739_01,mod1716_01,mod1247_01,mod1782_02,mod1630_01,mod1772_01,mod1798_01,
 mod1723_01,mod1768_01,mod4638_01,mod1174_01,mod1301_01,mod1244_01,mod1184_01,mod1782_01,
 mod1691_01,mod1467_01,mod1782_03,mod1180_01,mod1758_01,mod5799_01,mod1772_02];

// ---------- layout ----------
const svg = d3.select("#chart");
const L = 92, T = 4, PW = 138.4, PH = 145.5, CS = 153.4, RS = 153.2;
const FONT = "DejaVu Sans, sans-serif";
const INK = "#222";
const fmt = d3.format("d");

toiLabels.forEach((lab, i) => {
  const r = Math.floor(i / 8), c = i % 8;
  const x0 = L + c * CS, y0 = T + r * RS;
  const g = svg.append("g").attr("transform", `translate(${x0},${y0})`);
  const xs = d3.scaleLinear().domain(xDomain).range([0, PW]);
  const ys = d3.scaleLinear().domain(rowYDomains[r]).range([PH, 0]);
  const dom = rowYDomains[r];
  const yMinor = d3.range(Math.ceil(dom[0] / rowYMinorStep[r]) * rowYMinorStep[r], dom[1], rowYMinorStep[r]);

  const cid = "clip" + i;
  g.append("clipPath").attr("id", cid).append("rect").attr("width", PW).attr("height", PH);

  const plot = g.append("g").attr("clip-path", `url(#${cid})`);
  plot.selectAll("circle").data(panelPoints[i]).join("circle")
    .attr("cx", d => xs(d[0])).attr("cy", d => ys(d[1])).attr("r", 3.3).attr("fill", "#000");
  plot.append("path").datum(panelModels[i])
    .attr("d", d3.line().x(d => xs(d[0])).y(d => ys(d[1])).curve(d3.curveMonotoneX))
    .attr("fill", "none").attr("stroke", "#ff0000").attr("stroke-width", 2.1);

  // inward ticks on all four sides
  const mk = k => k === 0 ? d3.axisRight(ys) : k === 1 ? d3.axisLeft(ys) : k === 2 ? d3.axisBottom(xs) : d3.axisTop(xs);
  const pos = [[0,0],[PW,0],[0,0],[0,PH]];
  [0,1,2,3].forEach(k => {
    const isY = k < 2;
    g.append("g").attr("transform", `translate(${pos[k][0]},${pos[k][1]})`)
      .call(mk(k).tickValues(isY ? rowYMajorTicks[r] : xMajorTicks).tickSize(5.5).tickFormat(""))
      .call(s => s.select(".domain").remove())
      .selectAll("line").attr("stroke", INK).attr("stroke-width", 1);
    g.append("g").attr("transform", `translate(${pos[k][0]},${pos[k][1]})`)
      .call(mk(k).tickValues(isY ? yMinor : xMinorTicks).tickSize(3).tickFormat(""))
      .call(s => s.select(".domain").remove())
      .selectAll("line").attr("stroke", INK).attr("stroke-width", 0.8);
  });

  g.append("rect").attr("width", PW).attr("height", PH)
    .attr("fill", "none").attr("stroke", INK).attr("stroke-width", 1.2);

  if (c === 0) {
    g.append("g").call(d3.axisLeft(ys).tickValues(rowYMajorTicks[r]).tickSize(0).tickPadding(5).tickFormat(fmt))
      .call(s => s.select(".domain").remove())
      .selectAll("text").attr("font-family", FONT).attr("font-size", 14).attr("fill", "#000");
  }
  const isBottom = (r === 3) || (r === 2 && c === 7);
  if (isBottom) {
    g.append("g").attr("transform", `translate(0,${PH})`)
      .call(d3.axisBottom(xs).tickValues(xMajorTicks).tickSize(0).tickPadding(7).tickFormat(fmt))
      .call(s => s.select(".domain").remove())
      .selectAll("text").attr("font-family", FONT).attr("font-size", 14).attr("fill", "#000");
  }
  g.append("text").attr("x", PW / 2).attr("y", 15).attr("text-anchor", "middle")
    .attr("font-family", FONT).attr("font-weight", "bold").attr("font-size", 15)
    .attr("fill", "#ff0000").text(lab);
});

svg.append("text").attr("x", 665).attr("y", 658).attr("text-anchor", "middle")
  .attr("font-family", FONT).attr("font-size", 30).attr("fill", "#000").text(xAxisTitle);
svg.append("text").attr("transform", "translate(47,321) rotate(-90)").attr("text-anchor", "middle")
  .attr("font-family", FONT).attr("font-size", 30).attr("fill", "#000").text(yAxisTitle);
</script>
</body></html>
